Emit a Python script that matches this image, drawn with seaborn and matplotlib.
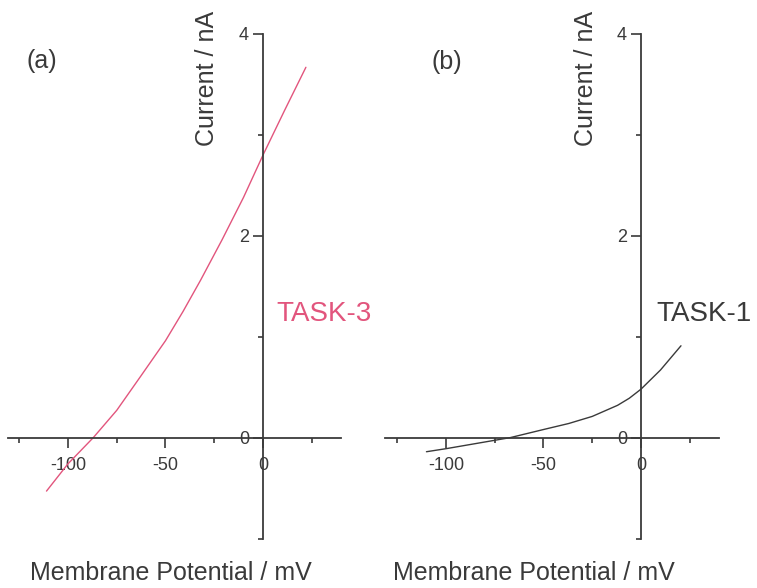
import matplotlib
matplotlib.use("Agg")
import matplotlib.pyplot as plt
import pandas as pd
import seaborn as sns
from matplotlib.ticker import FixedLocator, NullFormatter

sns.set_theme(style="white")
plt.rcParams["font.family"] = ["Liberation Sans", "DejaVu Sans"]

# Current-voltage relationships (membrane potential in mV, current in nA)
voltage_task3 = [-111, -100, -87, -75, -63, -50, -41, -32, -21, -10, 0, 11, 22]
current_task3 = [-0.53, -0.26, 0.0, 0.27, 0.60, 0.96, 1.25, 1.56, 1.96, 2.38, 2.80, 3.24, 3.67]

voltage_task1 = [-110, -100, -85, -67, -50, -37, -25, -12, -6, 0, 10, 20.5]
current_task1 = [-0.14, -0.11, -0.06, 0.0, 0.08, 0.14, 0.21, 0.32, 0.39, 0.48, 0.67, 0.91]

panel_labels = ["(a)", "(b)"]
channel_names = ["TASK-3", "TASK-1"]
x_label = "Membrane Potential / mV"
y_label = "Current / nA"
x_major = [-100, -50, 0]
x_minor = [-125, -75, -25, 25]
y_major = [0, 2, 4]
y_minor = [-1, 1, 3]

INK = "#3a3a3a"
PINK = "#e2557d"

W, H = 757, 588
fig = plt.figure(figsize=(W / 100, H / 100), dpi=100)
fig.patch.set_facecolor("white")


def axes_px(left, right, top, bottom):
    return fig.add_axes([left / W, 1 - bottom / H, (right - left) / W, (bottom - top) / H])


panels = [
    dict(box=(7.5, 341, 34, 538.5), v=voltage_task3, i=current_task3, color=PINK,
         name_xy=(276, 314), tag_xy=(42, 61), ylab_xy=(207, 78), xlab_xy=(171, 573)),
    dict(box=(385.5, 719, 34, 538.5), v=voltage_task1, i=current_task1, color=INK,
         name_xy=(656, 314), tag_xy=(447, 62), ylab_xy=(586, 78), xlab_xy=(534, 573)),
]

for k, p in enumerate(panels):
    ax = axes_px(*p["box"])
    ax.set_facecolor("none")
    df = pd.DataFrame({"Potential": p["v"], "Current": p["i"]})
    sns.lineplot(data=df, x="Potential", y="Current", ax=ax, color=p["color"],
                 linewidth=1.0, estimator=None, sort=False)
    ax.set_xlim(-131, 40)
    ax.set_ylim(-1.0, 4)
    ax.set_xlabel("")
    ax.set_ylabel("")

    for side in ("top", "right"):
        ax.spines[side].set_visible(False)
    ax.spines["left"].set_position(("data", 0))
    ax.spines["bottom"].set_position(("data", 0))
    for side in ("left", "bottom"):
        ax.spines[side].set_color(INK)
        ax.spines[side].set_linewidth(1.3)

    ax.xaxis.set_major_locator(FixedLocator(x_major))
    ax.xaxis.set_minor_locator(FixedLocator(x_minor))
    ax.yaxis.set_major_locator(FixedLocator(y_major))
    ax.yaxis.set_minor_locator(FixedLocator(y_minor))
    ax.xaxis.set_minor_formatter(NullFormatter())
    ax.yaxis.set_minor_formatter(NullFormatter())
    ax.set_xticklabels([str(t) for t in x_major])
    ax.set_yticklabels([str(t) for t in y_major])

    ax.tick_params(axis="both", which="both", bottom=True, left=True,
                   top=False, right=False)
    ax.tick_params(axis="both", which="major", direction="out", length=7, width=1.2,
                   color=INK, labelcolor=INK, labelsize=13)
    ax.tick_params(axis="both", which="minor", direction="out", length=3.5, width=1.2,
                   color=INK)
    ax.tick_params(axis="x", which="major", pad=7)
    ax.tick_params(axis="y", which="major", pad=3)
    ax.grid(False)

    fig.text(p["tag_xy"][0] / W, 1 - p["tag_xy"][1] / H, panel_labels[k],
             fontsize=18, color=INK, ha="center", va="center")
    fig.text(p["name_xy"][0] / W, 1 - p["name_xy"][1] / H, channel_names[k],
             fontsize=20, color=p["color"], ha="left", va="center")
    fig.text(p["ylab_xy"][0] / W, 1 - p["ylab_xy"][1] / H, y_label,
             fontsize=18, color=INK, ha="center", va="center", rotation=90)
    fig.text(p["xlab_xy"][0] / W, 1 - p["xlab_xy"][1] / H, x_label,
             fontsize=18, color=INK, ha="center", va="center")

fig.savefig("out.png", dpi=100, facecolor="white")
